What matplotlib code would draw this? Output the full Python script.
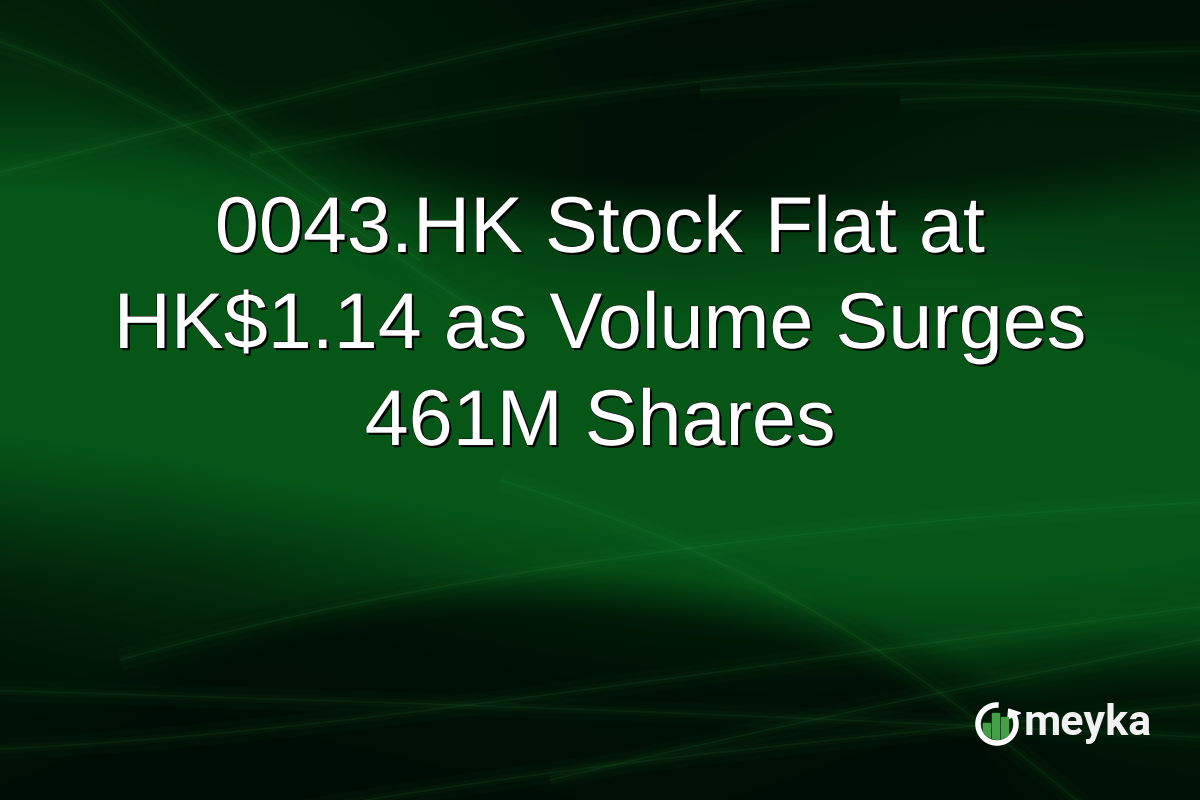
import numpy as np
import matplotlib
matplotlib.use('Agg')
import matplotlib.pyplot as plt
from matplotlib.path import Path
from matplotlib.patches import PathPatch, Arc, Circle, Rectangle, Polygon
import matplotlib.patheffects as pe

# title text, one entry per line, with baseline heights in pixels
title_lines = ['0043.HK Stock Flat at', 'HK$1.14 as Volume Surges', '461M Shares']
title_baselines = [252, 348, 445]

brand = 'meyka'
# logo bars: left edge, width, top (pixels)
bar_left = [983, 992, 1001]
bar_width = [7, 7, 7]
bar_top = [723, 713, 717]

W, H = 1200, 800

# background streaks (bezier control points, pixels), run edge to edge
streaks = [
    [(-50, 185), (250, 110), (520, 32), (820, -10)],
    [(250, 155), (600, 80), (900, 55), (1250, 50)],
    [(-20, 35), (150, 90), (300, 190), (520, 340)],
    [(80, -20), (160, 60), (240, 130), (420, 260)],
    [(700, 90), (950, 75), (1100, 90), (1250, 100)],
    [(900, 100), (1050, 92), (1120, 100), (1250, 118)],
    [(120, 660), (400, 580), (800, 520), (1250, 500)],
    [(-20, 690), (300, 700), (700, 710), (1250, 740)],
    [(-20, 750), (300, 735), (500, 700), (1250, 600)],
    [(250, 820), (500, 775), (700, 750), (1250, 700)],
    [(500, 480), (760, 560), (900, 650), (1100, 820)],
    [(550, 780), (800, 720), (1000, 680), (1250, 630)],
]

X, Y = np.meshgrid(np.arange(W) + 0.5, np.arange(H) + 0.5)

yc = 330 + 0.12 * X
band = np.exp(-((Y - yc) / (225.0 + 0.08 * X)) ** 2)


def blob(cx, cy, rx, ry, soft):
    d = np.sqrt(((X - cx) / rx) ** 2 + ((Y - cy) / ry) ** 2)
    return np.clip((1 + soft - d) / soft, 0, 1)


bright = band
bright = bright * (1 - 0.85 * blob(760, 20, 560, 165, 0.35))
bright = bright * (1 - 0.88 * blob(540, 830, 470, 215, 0.22))
bright = bright * (1 - 0.8 * blob(1230, 860, 420, 170, 0.4))
bright = bright + 0.25 * blob(720, 490, 300, 110, 0.9) * band
bright = bright + 0.18 * blob(60, 330, 260, 130, 0.9)
bright = bright + 0.15 * blob(0, 60, 350, 140, 0.9)
bright = bright + 0.12 * blob(1150, 220, 250, 120, 0.9)
bright = np.clip(bright, 0, 1)

dark = np.array([0, 13, 4]) / 255.0
light = np.array([6, 86, 24]) / 255.0
img = dark + bright[..., None] * (light - dark)

fig = plt.figure(figsize=(12, 8), dpi=100)
ax = fig.add_axes([0, 0, 1, 1])
ax.imshow(img, extent=(0, W, H, 0), interpolation='bilinear')
ax.set_xlim(0, W)
ax.set_ylim(H, 0)
ax.axis('off')

codes = [Path.MOVETO, Path.CURVE4, Path.CURVE4, Path.CURVE4]
for pts in streaks:
    for lw, a in [(16, 0.025), (6, 0.035), (1.2, 0.08)]:
        ax.add_patch(PathPatch(Path(pts, codes), fill=False, lw=lw,
                               edgecolor='#3fc05a', alpha=a))

shadow = [pe.withSimplePatchShadow(offset=(1.6, -1.6), shadow_rgbFace='black', alpha=0.9),
          pe.Stroke(linewidth=0.8, foreground='#111111'), pe.Normal()]
for line, yb in zip(title_lines, title_baselines):
    ax.text(W / 2, yb, line, ha='center', va='baseline', color='white',
            fontsize=57, family='Liberation Sans', path_effects=shadow)

# logo
cx, cy, r = 997, 724, 19
ax.add_patch(Arc((cx, cy), 2 * r, 2 * r, theta1=-25, theta2=275, lw=4, color='white'))
a1, a2 = np.deg2rad(25), np.deg2rad(52)
ax.add_patch(Polygon([(cx + (r - 7) * np.cos(a1), cy - (r - 7) * np.sin(a1)),
                      (cx + (r + 7) * np.cos(a1), cy - (r + 7) * np.sin(a1)),
                      (cx + r * np.cos(a2), cy - r * np.sin(a2))],
                     closed=True, color='white'))
clip = Circle((cx, cy), r - 3, transform=ax.transData)
for x0, w, t in zip(bar_left, bar_width, bar_top):
    rect = Rectangle((x0, t), w, cy + r - t, color='#43a047')
    ax.add_patch(rect)
    rect.set_clip_path(clip)

ax.text(1024, 735, brand, ha='left', va='baseline', color='#f2f2f2',
        fontsize=31, family='Roboto', fontweight='bold')

fig.savefig('out.png', dpi=100)
